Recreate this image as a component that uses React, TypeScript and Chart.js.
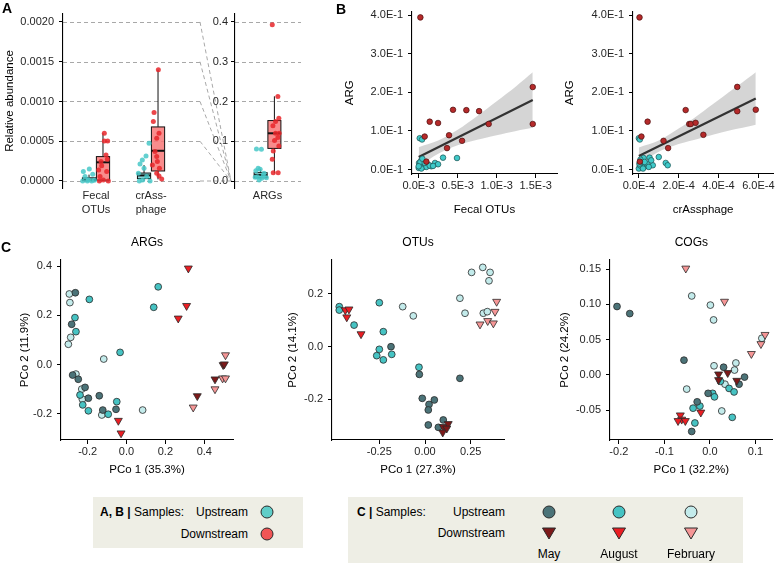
import React, { useEffect, useRef } from "react";
import { Chart, registerables } from "chart.js";
Chart.register(...registerables);

const FONT = "'Liberation Sans', Arial, Helvetica, sans-serif";
Chart.defaults.font.family = FONT;

type Pt = [number, number];

// ---------------- Panel A data ----------------
const A_CAT_POS = [1, 2];
const A_CAT_LABELS = [["Fecal", "OTUs"], ["crAss-", "phage"]];
const A_Y_TICKS = [0, 0.0005, 0.001, 0.0015, 0.002];
const A_Y_LABELS = ["0.0000", "0.0005", "0.0010", "0.0015", "0.0020"];
const ARG_CAT_POS = [1];
const ARG_CAT_LABELS = ["ARGs"];
const ARG_Y_TICKS = [0, 0.1, 0.2, 0.3, 0.4];
const ARG_Y_LABELS = ["0.0", "0.1", "0.2", "0.3", "0.4"];

// box stats: [whisker low, q1, median, q3, whisker high]
const FECAL_UP_BOX = [0, 0.000003, 0.000015, 0.00004, 0.00008];
const FECAL_DN_BOX = [0, 0.00001, 0.000235, 0.000307, 0.0006];
const CRASS_UP_BOX = [0, 0.00003, 0.00007, 0.0001, 0.0002];
const CRASS_DN_BOX = [0.00002, 0.000126, 0.00038, 0.00068, 0.0014];
const ARG_UP_BOX = [0.004, 0.008, 0.015, 0.021, 0.03];
const ARG_DN_BOX = [0.019, 0.082, 0.12, 0.152, 0.213];

// jittered points [x position, value]
const FECAL_UP_PTS: Pt[] = [[0.878, 0.000151], [0.77, 0.000118], [0.94, 0.000084], [0.8, 0.000055], [0.758, 0], [0.842, 0], [0.921, 0], [0.97, 0.000008], [0.86, 0.000017]];
const FECAL_DN_PTS: Pt[] = [[1.151, 0.0006], [1.151, 0.000504], [1.212, 0.000504], [1.182, 0.000328], [1.206, 0.000273], [1.091, 0.000244], [1.103, 0.000193], [1.048, 0.000139], [1.194, 0.000118], [1.073, 0.000055], [1.133, 0.000013], [1.061, 0], [1.224, 0]];
const CRASS_UP_PTS: Pt[] = [[1.964, 0.000475], [1.909, 0.000315], [1.842, 0.000265], [1.8, 0.000214], [1.873, 0.00016], [1.77, 0.000097], [1.921, 0.000055], [1.848, 0.000013], [1.982, 0], [1.788, 0]];
const CRASS_DN_PTS: Pt[] = [[2.133, 0.0014], [2.055, 0.000861], [2.042, 0.000748], [2.145, 0.000601], [2.103, 0.000538], [2.073, 0.00037], [2.103, 0.000307], [2.115, 0.000244], [2.024, 0.000202], [2.152, 0.00016], [2.103, 0.000097], [2.145, 0.000063], [2.194, 0.000025]];
const ARG_UP_PTS: Pt[] = [[0.796, 0.0807], [0.887, 0.0798], [0.827, 0.0319], [0.864, 0.0294], [0.785, 0.026], [0.936, 0.0193], [0.815, 0.0109], [0.894, 0.0067], [0.979, 0.0084], [0.845, 0.0025], [0.918, 0.0134], [0.773, 0.0092]];
const ARG_DN_PTS: Pt[] = [[1.088, 0.393], [1.191, 0.2126], [1.209, 0.158], [1.148, 0.1496], [1.1, 0.1387], [1.148, 0.1202], [1.215, 0.1202], [1.191, 0.1092], [1.13, 0.1017], [1.209, 0.0882], [1.106, 0.0756], [1.088, 0.0546], [1.106, 0.021], [1.197, 0.021]];

// ---------------- Panel B data ----------------
const B_Y_TICKS = [0, 0.1, 0.2, 0.3, 0.4];
const B_Y_LABELS = ["0.0E-1", "1.0E-1", "2.0E-1", "3.0E-1", "4.0E-1"];
const B1_X_TICKS = [0, 0.0005, 0.001, 0.0015];
const B1_X_LABELS = ["0.0E-3", "0.5E-3", "1.0E-3", "1.5E-3"];
const B2_X_TICKS = [0, 0.0002, 0.0004, 0.0006];
const B2_X_LABELS = ["0.0E-4", "2.0E-4", "4.0E-4", "6.0E-4"];

const B1_DOWN: Pt[] = [[0.0000214, 0.394], [0.000077, 0.0855], [0.000141, 0.124], [0.000248, 0.1205], [0.00044, 0.1547], [0.000611, 0.1538], [0.000774, 0.1513], [0.000897, 0.118], [0.000389, 0.0889], [0.000363, 0.0556], [0.000556, 0.0744], [0.001462, 0.2137], [0.001462, 0.118], [0.000098, 0.0205]];
const B1_UP: Pt[] = [[0.000013, 0.0812], [0.000043, 0.0778], [0.000312, 0.0308], [0.000491, 0.0299], [0.000209, 0.0171], [0.000248, 0.0137], [0.000004, 0.0171], [0.000034, 0.0239], [0.000056, 0.0068], [0, 0.0043], [0.00012, 0.0128], [0.000068, 0.0128], [0.000013, 0.0111], [0.000098, 0.0068], [0.000034, 0.0026], [0.000162, 0.0085], [0.000021, 0.0197], [0.000077, 0.0171], [0.000047, 0.028], [0.000141, 0.0103], [0, 0.0085], [0.000184, 0.0094]];
const B1_FIT: Pt[] = [[0, 0.0325], [0.001462, 0.18]];
const B1_BAND_X = [0, 0.00025, 0.0005, 0.00075, 0.001, 0.00125, 0.001462];
const B1_BAND_HI = [0.058, 0.075, 0.103, 0.139, 0.177, 0.216, 0.252];
const B1_BAND_LO = [0.008, 0.041, 0.063, 0.077, 0.089, 0.1, 0.108];

const B2_DOWN: Pt[] = [[0.0000034, 0.394], [0.000013, 0.0855], [0.000044, 0.124], [0.000235, 0.154], [0.000253, 0.118], [0.000261, 0.118], [0.000285, 0.121], [0.000124, 0.0744], [0.000147, 0.0556], [0.000324, 0.09], [0.000494, 0.214], [0.000494, 0.151], [0.000587, 0.155], [0.000005, 0.0205]];
const B2_UP: Pt[] = [[0, 0.0812], [0.000005, 0.0778], [0.000054, 0.0308], [0.0001, 0.0325], [0.000024, 0.0299], [0.00007, 0.0111], [0.000135, 0.0171], [0.000145, 0.0111], [0.000034, 0.0085], [0.000013, 0.0171], [0, 0.0026], [0.000008, 0.0256], [0.00004, 0.0154], [0.000018, 0.0068], [0.000005, 0.0111], [0.000029, 0.0197], [0.00005, 0.0068], [0.000003, 0.0154], [0.000062, 0.0239], [0.000021, 0.0026]];
const B2_FIT: Pt[] = [[0, 0.035], [0.000587, 0.184]];
const B2_BAND_X = [0, 0.0001, 0.0002, 0.0003, 0.0004, 0.0005, 0.000587];
const B2_BAND_HI = [0.057, 0.075, 0.106, 0.142, 0.18, 0.218, 0.252];
const B2_BAND_LO = [0.013, 0.046, 0.066, 0.08, 0.094, 0.106, 0.116];

// ---------------- Panel C data ----------------
const C1_X_TICKS = [-0.2, 0, 0.2, 0.4];
const C1_X_LABELS = ["-0.2", "0.0", "0.2", "0.4"];
const C1_Y_TICKS = [-0.2, 0, 0.2, 0.4];
const C1_Y_LABELS = ["-0.2", "0.0", "0.2", "0.4"];
const C1_UP_MAY: Pt[] = [[-0.263, 0.292], [-0.282, 0.164], [-0.277, -0.042], [-0.248, -0.059], [-0.213, -0.092], [-0.196, -0.136], [-0.14, -0.126], [-0.122, -0.184], [-0.054, -0.181]];
const C1_UP_AUG: Pt[] = [[-0.191, 0.265], [-0.265, 0.191], [-0.26, 0.134], [0.163, 0.316], [0.14, 0.233], [-0.033, 0.05], [-0.239, -0.123], [-0.225, -0.163], [-0.196, -0.187], [-0.094, -0.201], [-0.05, -0.15]];
const C1_UP_FEB: Pt[] = [[-0.294, 0.287], [-0.291, 0.252], [-0.287, 0.111], [-0.299, 0.083], [-0.117, 0.023], [-0.26, -0.038], [-0.23, -0.099], [-0.227, -0.14], [-0.127, -0.204], [0.083, -0.184]];
const C1_DN_MAY: Pt[] = [[0.364, -0.127], [0.455, -0.059], [0.497, -0.001], [0.503, 0.002]];
const C1_DN_AUG: Pt[] = [[0.318, 0.391], [0.309, 0.239], [0.266, 0.188], [-0.042, -0.227], [-0.028, -0.278]];
const C1_DN_FEB: Pt[] = [[0.343, -0.173], [0.455, -0.099], [0.494, -0.055], [0.509, -0.055], [0.509, 0.039]];

const C2_X_TICKS = [-0.25, 0, 0.25];
const C2_X_LABELS = ["-0.25", "0.00", "0.25"];
const C2_Y_TICKS = [-0.2, 0, 0.2];
const C2_Y_LABELS = ["-0.2", "0.0", "0.2"];
const C2_UP_MAY: Pt[] = [[-0.186, 0.0], [-0.031, -0.105], [0.191, -0.12], [-0.015, -0.196], [0.051, -0.202], [0.022, -0.219], [0.018, -0.24], [0.018, -0.297], [0.073, -0.306], [0.1, -0.278]];
const C2_UP_AUG: Pt[] = [[-0.469, 0.152], [-0.469, 0.139], [-0.388, 0.082], [-0.25, 0.167], [-0.228, 0.057], [-0.25, -0.01], [-0.264, -0.034], [-0.228, -0.05], [-0.182, -0.029], [-0.033, -0.078]];
const C2_UP_FEB: Pt[] = [[-0.122, 0.152], [-0.064, 0.117], [0.191, 0.184], [0.219, 0.127], [0.255, 0.282], [0.316, 0.301], [0.356, 0.282], [0.35, 0.25], [0.319, 0.127], [0.341, 0.133]];
const C2_DN_MAY: Pt[] = [[0.1, -0.304], [0.097, -0.325], [0.127, -0.293], [0.119, -0.31]];
const C2_DN_AUG: Pt[] = [[-0.436, 0.139], [-0.416, 0.142], [-0.428, 0.112], [-0.35, 0.048]];
const C2_DN_FEB: Pt[] = [[0.392, 0.171], [0.383, 0.133], [0.301, 0.085], [0.343, 0.098], [0.374, 0.089]];

const C3_X_TICKS = [-0.2, -0.1, 0, 0.1];
const C3_X_LABELS = ["-0.2", "-0.1", "0.0", "0.1"];
const C3_Y_TICKS = [-0.05, 0, 0.05, 0.1, 0.15];
const C3_Y_LABELS = ["-0.05", "0.00", "0.05", "0.10", "0.15"];
const C3_UP_MAY: Pt[] = [[-0.204, 0.097], [-0.176, 0.087], [-0.057, 0.021], [0.03, 0.011], [0.076, -0.003], [0.064, -0.013], [-0.004, -0.026], [-0.028, -0.038], [-0.04, -0.08]];
const C3_UP_AUG: Pt[] = [[0.006, -0.026], [0.023, -0.009], [0.042, -0.019], [0.053, -0.024], [0.01, -0.031], [-0.037, -0.047], [-0.022, -0.044], [-0.033, -0.068], [0.049, -0.06]];
const C3_UP_FEB: Pt[] = [[-0.04, 0.112], [0.001, 0.099], [0.008, 0.078], [0.114, 0.052], [-0.051, -0.02], [0.009, 0.013], [0.057, 0.017], [0.054, 0.007], [0.033, -0.013], [0.026, -0.051]];
const C3_DN_MAY: Pt[] = [[0.019, 0.001], [0.039, 0.003], [0.059, -0.008], [0.019, -0.007]];
const C3_DN_AUG: Pt[] = [[-0.065, -0.057], [-0.062, -0.063], [-0.07, -0.065], [-0.054, -0.065], [-0.02, -0.053]];
const C3_DN_FEB: Pt[] = [[-0.053, 0.151], [0.032, 0.104], [0.121, 0.057], [0.112, 0.044], [0.091, 0.03]];

// ---------------- styles ----------------
const A_CYAN = "rgba(72,200,200,0.85)";
const A_RED = "rgba(232,38,42,0.85)";
const B_CYAN = "#3fc9c9";
const B_RED = "#b52a2a";
const COL_UP = { may: "#4b7378", aug: "#46c3c3", feb: "#c3ebeb" };
const COL_DN = { may: "#7d1919", aug: "#eb1e23", feb: "#f59696" };

const toXY = (arr: Pt[]) => arr.map(([x, y]) => ({ x, y }));

function fixedTicks(values: number[]) {
  return (scale: any) => {
    scale.ticks = values.map((v) => ({ value: v }));
  };
}

function makeAxis(o: any) {
  const showTicks = o.showTicks !== false;
  return {
    type: "linear",
    min: o.min,
    max: o.max,
    afterBuildTicks: fixedTicks(o.ticks),
    afterFit: (s: any) => {
      if (o.horizontal) s.height = o.fit;
      else s.width = o.fit;
    },
    border: { display: o.showBorder !== false, color: "#000", width: 1.1 },
    grid: { display: showTicks, drawOnChartArea: false, drawTicks: showTicks, tickLength: 4, tickColor: "#000", tickWidth: 1 },
    ticks: {
      autoSkip: false,
      maxRotation: 0,
      minRotation: 0,
      padding: o.tickPadding ?? 1,
      color: "#262626",
      font: o.tickFont || { family: FONT, size: 11 },
      callback: (_v: any, i: number) => o.labels[i],
    },
    title: o.title
      ? { display: true, text: o.title, color: "#000", font: { family: FONT, size: 11.5 }, padding: o.titlePad }
      : { display: false },
  };
}

function dashGrid(values: number[]) {
  return {
    id: "dashGrid",
    beforeDraw(chart: any) {
      const { ctx, chartArea } = chart;
      const ys = chart.scales.y;
      ctx.save();
      ctx.strokeStyle = "#a8a8a8";
      ctx.lineWidth = 1;
      ctx.setLineDash([4, 3]);
      values.forEach((v) => {
        const y = Math.round(ys.getPixelForValue(v)) + 0.5;
        ctx.beginPath();
        ctx.moveTo(chartArea.left, y);
        ctx.lineTo(chartArea.right, y);
        ctx.stroke();
      });
      ctx.restore();
    },
  };
}

function connectors(values: number[]) {
  return {
    id: "connectors",
    beforeDraw(chart: any) {
      const { ctx, chartArea } = chart;
      const ys = chart.scales.y;
      const yBase = ys.getPixelForValue(0);
      const xFrom = 10;
      const xTo = chartArea.left - 4;
      ctx.save();
      ctx.strokeStyle = "#a8a8a8";
      ctx.lineWidth = 1;
      ctx.setLineDash([4, 3]);
      values.forEach((v) => {
        ctx.beginPath();
        ctx.moveTo(xFrom, ys.getPixelForValue(v));
        ctx.lineTo(xTo, yBase);
        ctx.stroke();
      });
      ctx.restore();
    },
  };
}

function boxes(list: { x: number; stats: number[]; fill: string }[], half: number) {
  return {
    id: "boxes",
    beforeDatasetsDraw(chart: any) {
      const { ctx } = chart;
      const xs = chart.scales.x;
      const ys = chart.scales.y;
      list.forEach((b) => {
        const [lo, q1, med, q3, hi] = b.stats;
        const xc = xs.getPixelForValue(b.x);
        const x0 = xs.getPixelForValue(b.x - half);
        const x1 = xs.getPixelForValue(b.x + half);
        const yLo = ys.getPixelForValue(lo);
        const yHi = ys.getPixelForValue(hi);
        const yQ1 = ys.getPixelForValue(q1);
        const yQ3 = ys.getPixelForValue(q3);
        const yMed = ys.getPixelForValue(med);
        ctx.save();
        ctx.strokeStyle = "#111";
        ctx.lineWidth = 1;
        ctx.beginPath();
        ctx.moveTo(xc, yHi);
        ctx.lineTo(xc, yQ3);
        ctx.moveTo(xc, yQ1);
        ctx.lineTo(xc, yLo);
        ctx.stroke();
        ctx.fillStyle = b.fill;
        ctx.fillRect(x0, yQ3, x1 - x0, yQ1 - yQ3);
        ctx.strokeRect(x0, yQ3, x1 - x0, yQ1 - yQ3);
        ctx.lineWidth = 2;
        ctx.beginPath();
        ctx.moveTo(x0, yMed);
        ctx.lineTo(x1, yMed);
        ctx.stroke();
        ctx.restore();
      });
    },
  };
}

const baseOptions = (padding: any) => ({
  responsive: false,
  animation: false,
  events: [],
  layout: { padding },
  plugins: { legend: { display: false }, tooltip: { enabled: false }, title: { display: false } },
});

const jitterDs = (pts: Pt[], color: string) => ({
  data: toXY(pts),
  backgroundColor: color,
  borderWidth: 0,
  pointRadius: 2.5,
});

const BOX_OFF = 0.127;
const BOX_HALF = 0.12;

function makeA1() {
  return {
    type: "scatter",
    data: {
      datasets: [
        jitterDs(FECAL_UP_PTS, A_CYAN),
        jitterDs(FECAL_DN_PTS, A_RED),
        jitterDs(CRASS_UP_PTS, A_CYAN),
        jitterDs(CRASS_DN_PTS, A_RED),
      ],
    },
    options: {
      ...baseOptions({ top: 14, right: 5, left: 0, bottom: 0 }),
      scales: {
        x: makeAxis({ min: 0.4, max: 2.89, ticks: A_CAT_POS, labels: A_CAT_LABELS, horizontal: true, fit: 37, showTicks: false, showBorder: false, tickPadding: 1, tickFont: { family: FONT, size: 11, lineHeight: 1.3 } }),
        y: makeAxis({ min: -0.0000881, max: 0.0021006, ticks: A_Y_TICKS, labels: A_Y_LABELS, horizontal: false, fit: 63, tickPadding: 5, title: "Relative abundance", titlePad: { top: 2.8, bottom: 0 } }),
      },
    },
    plugins: [
      dashGrid(A_Y_TICKS),
      boxes(
        [
          { x: A_CAT_POS[0] - BOX_OFF, stats: FECAL_UP_BOX, fill: "rgba(110,205,205,0.75)" },
          { x: A_CAT_POS[0] + BOX_OFF, stats: FECAL_DN_BOX, fill: "rgba(248,120,120,0.85)" },
          { x: A_CAT_POS[1] - BOX_OFF, stats: CRASS_UP_BOX, fill: "rgba(110,205,205,0.75)" },
          { x: A_CAT_POS[1] + BOX_OFF, stats: CRASS_DN_BOX, fill: "rgba(248,120,120,0.85)" },
        ],
        BOX_HALF
      ),
    ],
  };
}

function makeA2() {
  return {
    type: "scatter",
    data: { datasets: [jitterDs(ARG_UP_PTS, A_CYAN), jitterDs(ARG_DN_PTS, A_RED)] },
    options: {
      ...baseOptions({ top: 14, right: 3, left: 0, bottom: 0 }),
      scales: {
        x: makeAxis({ min: 0.4, max: 1.618, ticks: ARG_CAT_POS, labels: ARG_CAT_LABELS, horizontal: true, fit: 37, showTicks: false, showBorder: false, tickPadding: 1, tickFont: { family: FONT, size: 11, lineHeight: 1.3 } }),
        y: makeAxis({ min: -0.0176, max: 0.42, ticks: ARG_Y_TICKS, labels: ARG_Y_LABELS, horizontal: false, fit: 45, tickPadding: 3 }),
      },
    },
    plugins: [
      dashGrid(ARG_Y_TICKS),
      connectors(ARG_Y_TICKS),
      boxes(
        [
          { x: ARG_CAT_POS[0] - BOX_OFF, stats: ARG_UP_BOX, fill: "rgba(110,205,205,0.75)" },
          { x: ARG_CAT_POS[0] + BOX_OFF, stats: ARG_DN_BOX, fill: "rgba(248,120,120,0.85)" },
        ],
        BOX_HALF
      ),
    ],
  };
}

const bandDs = (xs: number[], ys: number[], fill: any) => ({
  type: "line",
  data: xs.map((x, i) => ({ x, y: ys[i] })),
  borderWidth: 0,
  borderColor: "rgba(0,0,0,0)",
  pointRadius: 0,
  backgroundColor: "rgba(150,150,150,0.4)",
  fill,
  tension: 0.3,
});

function makeB(o: any) {
  return {
    type: "scatter",
    data: {
      datasets: [
        { data: toXY(o.down), backgroundColor: B_RED, borderColor: "#4a1010", borderWidth: 0.7, pointRadius: 2.8 },
        { data: toXY(o.up), backgroundColor: B_CYAN, borderColor: "#1c5050", borderWidth: 0.7, pointRadius: 2.8 },
        { type: "line", data: toXY(o.fit), borderColor: "#333", borderWidth: 2.2, pointRadius: 0, fill: false },
        bandDs(o.bandX, o.bandHi, "+1"),
        bandDs(o.bandX, o.bandLo, false),
      ],
    },
    options: {
      ...baseOptions({ top: 10, right: o.padRight, left: 0, bottom: 0 }),
      scales: {
        x: makeAxis({ min: o.xMin, max: o.xMax, ticks: o.xTicks, labels: o.xLabels, horizontal: true, fit: 51, title: o.xTitle, titlePad: { top: 0, bottom: 7.8 } }),
        y: makeAxis({ min: -0.0115, max: 0.409, ticks: B_Y_TICKS, labels: B_Y_LABELS, horizontal: false, fit: o.yFit, tickPadding: 5, title: "ARG", titlePad: { top: o.yTitlePad, bottom: 0 } }),
      },
    },
  };
}

const circleDs = (pts: Pt[], color: string) => ({
  data: toXY(pts),
  backgroundColor: color,
  borderColor: "#2a2a2a",
  borderWidth: 0.8,
  pointRadius: 3.4,
  pointStyle: "circle",
});
const triDs = (pts: Pt[], color: string) => ({
  data: toXY(pts),
  backgroundColor: color,
  borderColor: "#2a2a2a",
  borderWidth: 0.8,
  pointRadius: 4.6,
  pointStyle: "triangle",
  rotation: 180,
});

function makeC(o: any) {
  return {
    type: "scatter",
    data: {
      datasets: [
        triDs(o.dnMay, COL_DN.may),
        triDs(o.dnAug, COL_DN.aug),
        triDs(o.dnFeb, COL_DN.feb),
        circleDs(o.upMay, COL_UP.may),
        circleDs(o.upAug, COL_UP.aug),
        circleDs(o.upFeb, COL_UP.feb),
      ],
    },
    options: {
      ...baseOptions({ top: 0, right: o.padRight, left: 0, bottom: 0 }),
      plugins: {
        legend: { display: false },
        tooltip: { enabled: false },
        title: { display: true, text: o.title, fullSize: false, color: "#000", font: { family: FONT, size: 12, weight: "normal" }, padding: { top: 7.8, bottom: 9.8 } },
      },
      scales: {
        x: makeAxis({ min: o.xMin, max: o.xMax, ticks: o.xTicks, labels: o.xLabels, horizontal: true, fit: 48, title: o.xTitle, titlePad: { top: 0, bottom: 10.8 } }),
        y: makeAxis({ min: o.yMin, max: o.yMax, ticks: o.yTicks, labels: o.yLabels, horizontal: false, fit: o.yFit, tickPadding: 5, title: o.yTitle, titlePad: { top: o.yTitlePad, bottom: 0 } }),
      },
    },
  };
}

function ChartCanvas(props: { left: number; top: number; width: number; height: number; make: () => any }) {
  const ref = useRef<HTMLCanvasElement>(null);
  useEffect(() => {
    const chart = new Chart(ref.current as HTMLCanvasElement, props.make());
    return () => chart.destroy();
  }, []);
  return (
    <canvas
      ref={ref}
      width={props.width}
      height={props.height}
      style={{ position: "absolute", left: props.left, top: props.top, width: props.width, height: props.height }}
    />
  );
}

function Txt(p: { x: number; y: number; children: any; align?: "left" | "right" | "center"; size?: number; bold?: boolean }) {
  const size = p.size ?? 12;
  const w = 200;
  const align = p.align ?? "left";
  const left = align === "left" ? p.x : align === "right" ? p.x - w : p.x - w / 2;
  return (
    <div
      style={{
        position: "absolute",
        left,
        top: p.y - size * 0.6,
        width: w,
        textAlign: align,
        fontSize: size,
        lineHeight: `${size * 1.2}px`,
        fontWeight: p.bold ? 700 : 400,
        color: "#000",
        whiteSpace: "nowrap",
        fontFamily: FONT,
      }}
    >
      {p.children}
    </div>
  );
}

function Marker(p: { x: number; y: number; color: string; shape: "circle" | "tri" }) {
  return (
    <svg style={{ position: "absolute", left: p.x - 8, top: p.y - 8 }} width={16} height={16}>
      {p.shape === "circle" ? (
        <circle cx={8} cy={8} r={6} fill={p.color} stroke="#2a2a2a" strokeWidth={1} />
      ) : (
        <polygon points="1.5,3 14.5,3 8,14" fill={p.color} stroke="#2a2a2a" strokeWidth={1} />
      )}
    </svg>
  );
}

export default function App() {
  return (
    <div style={{ position: "absolute", left: 0, top: 0, width: 778, height: 563, background: "#fff", overflow: "hidden", fontFamily: FONT }}>
      <ChartCanvas left={0} top={0} width={205} height={225} make={makeA1} />
      <ChartCanvas left={190} top={0} width={115} height={225} make={makeA2} />
      <ChartCanvas
        left={330}
        top={0}
        width={232}
        height={225}
        make={() =>
          makeB({ down: B1_DOWN, up: B1_UP, fit: B1_FIT, bandX: B1_BAND_X, bandHi: B1_BAND_HI, bandLo: B1_BAND_LO, xMin: -0.0000859, xMax: 0.001773, xTicks: B1_X_TICKS, xLabels: B1_X_LABELS, xTitle: "Fecal OTUs", yFit: 82, yTitlePad: 12.8, padRight: 5 })
        }
      />
      <ChartCanvas
        left={548}
        top={0}
        width={230}
        height={225}
        make={() =>
          makeB({ down: B2_DOWN, up: B2_UP, fit: B2_FIT, bandX: B2_BAND_X, bandHi: B2_BAND_HI, bandLo: B2_BAND_LO, xMin: -0.0000293, xMax: 0.000675, xTicks: B2_X_TICKS, xLabels: B2_X_LABELS, xTitle: "crAssphage", yFit: 85, yTitlePad: 14.8, padRight: 1 })
        }
      />
      <ChartCanvas
        left={0}
        top={228}
        width={240}
        height={260}
        make={() =>
          makeC({ title: "ARGs", upMay: C1_UP_MAY, upAug: C1_UP_AUG, upFeb: C1_UP_FEB, dnMay: C1_DN_MAY, dnAug: C1_DN_AUG, dnFeb: C1_DN_FEB, xMin: -0.3368, xMax: 0.5476, yMin: -0.3055, yMax: 0.4248, xTicks: C1_X_TICKS, xLabels: C1_X_LABELS, yTicks: C1_Y_TICKS, yLabels: C1_Y_LABELS, xTitle: "PCo 1 (35.3%)", yTitle: "PCo 2 (11.9%)", yFit: 61, yTitlePad: 17.8, padRight: 7 })
        }
      />
      <ChartCanvas
        left={250}
        top={228}
        width={260}
        height={260}
        make={() =>
          makeC({ title: "OTUs", upMay: C2_UP_MAY, upAug: C2_UP_AUG, upFeb: C2_UP_FEB, dnMay: C2_DN_MAY, dnAug: C2_DN_AUG, dnFeb: C2_DN_FEB, xMin: -0.5088, xMax: 0.4322, yMin: -0.354, yMax: 0.329, xTicks: C2_X_TICKS, xLabels: C2_X_LABELS, yTicks: C2_Y_TICKS, yLabels: C2_Y_LABELS, xTitle: "PCo 1 (27.3%)", yTitle: "PCo 2 (14.1%)", yFit: 82, yTitlePad: 35.8, padRight: 6 })
        }
      />
      <ChartCanvas
        left={510}
        top={228}
        width={268}
        height={260}
        make={() =>
          makeC({ title: "COGs", upMay: C3_UP_MAY, upAug: C3_UP_AUG, upFeb: C3_UP_FEB, dnMay: C3_DN_MAY, dnAug: C3_DN_AUG, dnFeb: C3_DN_FEB, xMin: -0.2194, xMax: 0.1376, yMin: -0.0921, yMax: 0.1629, xTicks: C3_X_TICKS, xLabels: C3_X_LABELS, yTicks: C3_Y_TICKS, yLabels: C3_Y_LABELS, xTitle: "PCo 1 (32.2%)", yTitle: "PCo 2 (24.2%)", yFit: 100, yTitlePad: 47.8, padRight: 2 })
        }
      />

      {/* panel letters */}
      <Txt x={2} y={8} size={14} bold>A</Txt>
      <Txt x={336} y={9} size={14} bold>B</Txt>
      <Txt x={1} y={247} size={14} bold>C</Txt>

      {/* legend A, B */}
      <div style={{ position: "absolute", left: 93, top: 497, width: 210, height: 51, background: "#eeeee5" }} />
      <Txt x={100} y={512} size={12}>
        <b>A, B |</b> Samples:
      </Txt>
      <Txt x={248} y={512} size={12} align="right">Upstream</Txt>
      <Txt x={248} y={534} size={12} align="right">Downstream</Txt>
      <Marker x={267} y={512} color="#5fcdc8" shape="circle" />
      <Marker x={267} y={534} color="#f05555" shape="circle" />

      {/* legend C */}
      <div style={{ position: "absolute", left: 348, top: 497, width: 395, height: 66, background: "#eeeee5" }} />
      <Txt x={357} y={512} size={12}>
        <b>C |</b> Samples:
      </Txt>
      <Txt x={505} y={512} size={12} align="right">Upstream</Txt>
      <Txt x={505} y={533} size={12} align="right">Downstream</Txt>
      <Marker x={549} y={512} color={COL_UP.may} shape="circle" />
      <Marker x={619} y={512} color={COL_UP.aug} shape="circle" />
      <Marker x={691} y={512} color={COL_UP.feb} shape="circle" />
      <Marker x={549} y={533} color={COL_DN.may} shape="tri" />
      <Marker x={619} y={533} color={COL_DN.aug} shape="tri" />
      <Marker x={691} y={533} color={COL_DN.feb} shape="tri" />
      <Txt x={549} y={554} size={12} align="center">May</Txt>
      <Txt x={619} y={554} size={12} align="center">August</Txt>
      <Txt x={691} y={554} size={12} align="center">February</Txt>
    </div>
  );
}
